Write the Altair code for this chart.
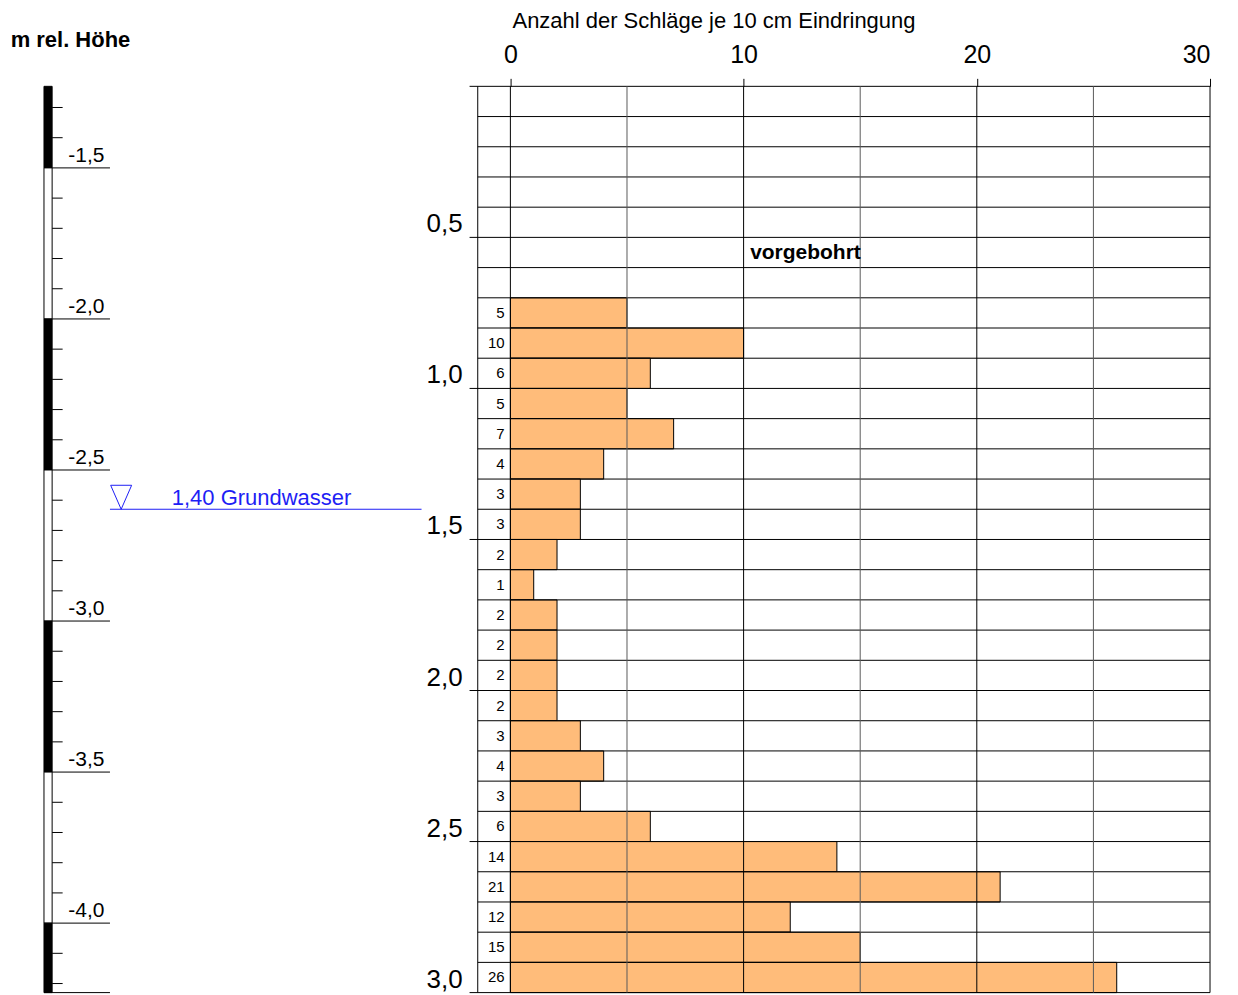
import altair as alt
import pandas as pd

# ---------------- data ----------------
depth_top = [0.7, 0.8, 0.9, 1.0, 1.1, 1.2, 1.3, 1.4, 1.5, 1.6, 1.7, 1.8,
             1.9, 2.0, 2.1, 2.2, 2.3, 2.4, 2.5, 2.6, 2.7, 2.8, 2.9]
blows = [5, 10, 6, 5, 7, 4, 3, 3, 2, 1, 2, 2, 2, 2, 3, 4, 3, 6, 14, 21, 12, 15, 26]
row_step = 0.1

x_tick_values = [0, 10, 20, 30]
grid_x = [0, 5, 10, 15, 20, 25, 30]
grid_x_color = ["black", "#5a5a5a", "black", "#5a5a5a", "black", "#5a5a5a", "black"]

depth_labels = [0.5, 1.0, 1.5, 2.0, 2.5, 3.0]
depth_label_text = ["0,5", "1,0", "1,5", "2,0", "2,5", "3,0"]
max_depth = 3.0

elev_top = -1.23
elev_major = [-1.5, -2.0, -2.5, -3.0, -3.5, -4.0]
elev_major_text = ["-1,5", "-2,0", "-2,5", "-3,0", "-3,5", "-4,0"]
elev_bottom = -4.23

groundwater_depth = 1.40
groundwater_text = "1,40 Grundwasser"
x_title = "Anzahl der Schläge je 10 cm Eindringung"
y_title = "m rel. Höhe"
predrilled_text = "vorgebohrt"

# ---------------- layout constants (data units) ----------------
COL_LEFT = -1.4      # left edge of number column
TICK_LEFT = -1.75    # depth tick start
NUM_X = -0.25        # row number anchor
DEPTH_LBL_X = -2.05
BAR_L, BAR_R = -20.0, -19.65
MINOR_R = -19.2
MAJOR_R = -17.17
ELEV_LBL_X = -18.18
GW_L, GW_R = -17.17, -3.81

FONT = "Liberation Sans"
ORANGE = "#FFBC7A"
BLUE = "#1E1EF5"

xs = alt.Scale(domain=[-20, 30], nice=False, zero=False)
ys = alt.Scale(domain=[0, max_depth], reverse=True, nice=False, zero=False)
xaxis = alt.Axis(orient="top", values=x_tick_values, tickSize=8, domain=False,
                 grid=False, labelFontSize=25, labelPadding=11, title=None,
                 tickColor="black", labelColor="black", labelFont=FONT,
                 labelFontWeight="normal")


def X(f):
    return alt.X(f, type="quantitative", scale=xs, axis=xaxis)


def Y(f):
    return alt.Y(f, type="quantitative", scale=ys, axis=None)


# bars
bars_df = pd.DataFrame({
    "d0": depth_top,
    "d1": [round(d + row_step, 2) for d in depth_top],
    "x0": [0] * len(blows),
    "n": blows,
    "nx": [NUM_X] * len(blows),
    "dm": [round(d + row_step / 2, 3) for d in depth_top],
})
bars = alt.Chart(bars_df).mark_rect(fill=ORANGE, stroke="black", strokeWidth=1).encode(
    x=X("x0"), x2="n", y=Y("d0"), y2="d1")

nums = alt.Chart(bars_df).mark_text(align="right", baseline="middle", fontSize=15,
                                     font=FONT, color="black").encode(
    x=X("nx"), y=Y("dm"), text="n:Q")

# horizontal row lines
n_rows = int(round(max_depth / row_step))
row_lines = [round(i * row_step, 2) for i in range(n_rows + 1)]
hl_df = pd.DataFrame({
    "d": row_lines,
    "xl": [TICK_LEFT if abs(d * 2 - round(d * 2)) < 1e-9 else COL_LEFT for d in row_lines],
    "xr": [30] * len(row_lines),
})
hlines = alt.Chart(hl_df).mark_rule(color="black", strokeWidth=1).encode(
    x=X("xl"), x2="xr", y=Y("d"))

# vertical grid lines
vl_df = pd.DataFrame({
    "x": [COL_LEFT] + grid_x,
    "c": ["black"] + grid_x_color,
    "d0": [0] * (len(grid_x) + 1),
    "d1": [max_depth] * (len(grid_x) + 1),
})
vlines = alt.Chart(vl_df).mark_rule(strokeWidth=1).encode(
    x=X("x"), y=Y("d0"), y2="d1", color=alt.Color("c:N", scale=None))

# depth labels
dl_df = pd.DataFrame({"d": depth_labels, "t": depth_label_text,
                      "x": [DEPTH_LBL_X] * len(depth_labels)})
dlabels = alt.Chart(dl_df).mark_text(align="right", baseline="alphabetic", dy=-5,
                                      fontSize=26, font=FONT, color="black").encode(
    x=X("x"), y=Y("d"), text="t:N")

# elevation bar segments
bounds = [elev_top] + elev_major + [elev_bottom]
seg_df = pd.DataFrame({
    "d0": [round(elev_top - b, 3) for b in bounds[:-1]],
    "d1": [round(elev_top - b, 3) for b in bounds[1:]],
    "f": ["black" if i % 2 == 0 else "white" for i in range(len(bounds) - 1)],
    "xl": [BAR_L] * (len(bounds) - 1),
    "xr": [BAR_R] * (len(bounds) - 1),
})
segs = alt.Chart(seg_df).mark_rect(stroke="black", strokeWidth=1).encode(
    x=X("xl"), x2="xr", y=Y("d0"), y2="d1", fill=alt.Fill("f:N", scale=None))

# minor ticks every 0.1 m
minor_elev = [round(-1.3 - 0.1 * i, 1) for i in range(30)]
minor_elev = [e for e in minor_elev if abs(e * 2 - round(e * 2)) > 1e-9]
mt_df = pd.DataFrame({"d": [round(elev_top - e, 3) for e in minor_elev],
                      "xl": [BAR_R] * len(minor_elev), "xr": [MINOR_R] * len(minor_elev)})
minor = alt.Chart(mt_df).mark_rule(color="black", strokeWidth=1).encode(
    x=X("xl"), x2="xr", y=Y("d"))

# major lines + bottom line
mj_df = pd.DataFrame({
    "d": [round(elev_top - e, 3) for e in elev_major] + [round(elev_top - elev_bottom, 3)],
    "xl": [BAR_R] * len(elev_major) + [BAR_L],
    "xr": [MAJOR_R] * (len(elev_major) + 1),
})
major = alt.Chart(mj_df).mark_rule(color="black", strokeWidth=1).encode(
    x=X("xl"), x2="xr", y=Y("d"))

ml_df = pd.DataFrame({"d": [round(elev_top - e, 3) for e in elev_major],
                      "t": elev_major_text, "x": [ELEV_LBL_X] * len(elev_major)})
mlabels = alt.Chart(ml_df).mark_text(align="center", baseline="alphabetic", dy=-6,
                                      fontSize=21, font=FONT, color="black").encode(
    x=X("x"), y=Y("d"), text="t:N")

# groundwater
gw_df = pd.DataFrame({"d": [groundwater_depth], "xl": [GW_L], "xr": [GW_R]})
gwline = alt.Chart(gw_df).mark_rule(color=BLUE, strokeWidth=1).encode(
    x=X("xl"), x2="xr", y=Y("d"))
tri_df = pd.DataFrame({"d": [groundwater_depth], "x": [-16.69]})
tri = alt.Chart(tri_df).mark_point(shape="M-0.875,-1L0.875,-1L0,1Z", size=576,
                                    filled=False, color=BLUE, strokeWidth=1,
                                    opacity=1, yOffset=-12).encode(
    x=X("x"), y=Y("d"))
gwt_df = pd.DataFrame({"d": [groundwater_depth], "x": [-14.52], "t": [groundwater_text]})
gwtext = alt.Chart(gwt_df).mark_text(align="left", baseline="alphabetic", dy=-4,
                                      fontSize=22, font=FONT, color=BLUE).encode(
    x=X("x"), y=Y("d"), text="t:N")

# annotations
title_df = pd.DataFrame({"x": [8.73], "d": [-0.215], "t": [x_title]})
ylab_df = pd.DataFrame({"x": [-18.865], "d": [-0.152], "t": [y_title]})
pre_df = pd.DataFrame({"x": [10.28], "d": [0.552], "t": [predrilled_text]})

ann_title = alt.Chart(title_df).mark_text(align="center", baseline="middle",
                                          fontSize=22, font=FONT, color="black").encode(
    x=X("x"), y=Y("d"), text="t:N")
ann_y = alt.Chart(ylab_df).mark_text(align="center", baseline="middle",
                                     fontSize=22, fontWeight="bold", font=FONT,
                                     color="black").encode(
    x=X("x"), y=Y("d"), text="t:N")
ann_v = alt.Chart(pre_df).mark_text(align="left", baseline="middle",
                                    fontSize=21, fontWeight="bold", font=FONT,
                                    color="black").encode(
    x=X("x"), y=Y("d"), text="t:N")

chart = alt.layer(
    bars, hlines, vlines, nums, dlabels, segs, minor, major, mlabels,
    gwline, tri, gwtext, ann_title, ann_y, ann_v
).properties(
    width=1167, height=907,
    autosize=alt.AutoSizeParams(type="none"),
    padding={"left": 36, "top": 78, "right": 20, "bottom": 4},
).configure(font=FONT).configure_view(strokeWidth=0, stroke=None)

chart.save("out.html", embed_options={"renderer": "svg", "actions": False})
